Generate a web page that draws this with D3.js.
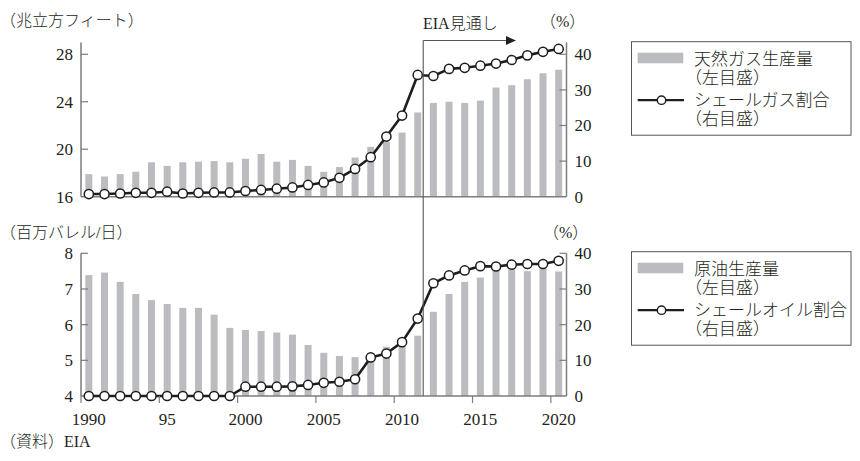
<!DOCTYPE html>
<html lang="ja">
<head>
<meta charset="utf-8">
<script src="https://cdn.jsdelivr.net/npm/d3@7"></script>
<style>
  html, body { margin: 0; padding: 0; background: #fff; }
  svg { display: block; }
  text { fill: #231f20; }
  .num { font-family: "Liberation Serif", "Noto Sans CJK JP", serif; font-size: 17px; }
  .jp { font-family: "Liberation Serif", "Noto Sans CJK JP", sans-serif; font-size: 16px; font-weight: 300; }
  .leg { font-family: "Liberation Serif", "Noto Sans CJK JP", sans-serif; font-size: 17px; font-weight: 300; }
</style>
</head>
<body>
<svg id="chart" width="860" height="461"></svg>
<script>
// Years on the shared horizontal axis
const years = [1990, 1991, 1992, 1993, 1994, 1995, 1996, 1997, 1998, 1999,
               2000, 2001, 2002, 2003, 2004, 2005, 2006, 2007, 2008, 2009,
               2010, 2011, 2012, 2013, 2014, 2015, 2016, 2017, 2018, 2019, 2020];

// Natural gas production (trillion cubic feet) and shale gas share (%)
const gasProduction = [17.9, 17.7, 17.9, 18.1, 18.9, 18.6, 18.9, 18.95, 19.0, 18.9,
                       19.2, 19.6, 18.95, 19.1, 18.6, 18.1, 18.5, 19.3, 20.2, 20.6,
                       21.4, 23.1, 23.9, 24.0, 23.9, 24.1, 25.2, 25.4, 25.9, 26.4, 26.7];
const shaleGasShare = [0.75, 0.75, 0.9, 1.1, 1.1, 1.4, 0.9, 1.1, 1.2, 1.2,
                       1.6, 1.9, 2.25, 2.6, 3.3, 4.0, 5.3, 7.8, 11.1, 16.9,
                       22.8, 34.2, 33.9, 35.9, 36.2, 36.8, 37.4, 38.4, 39.7, 40.7, 41.5];

// Crude oil production (million barrels/day) and shale oil share (%)
const oilProduction = [7.39, 7.46, 7.2, 6.86, 6.69, 6.58, 6.47, 6.47, 6.28, 5.91,
                       5.85, 5.82, 5.78, 5.72, 5.43, 5.21, 5.12, 5.09, 5.2, 5.38,
                       5.5, 5.69, 6.36, 6.86, 7.2, 7.32, 7.53, 7.55, 7.5, 7.58, 7.49];
const shaleOilShare = [0, 0, 0, 0, 0, 0, 0, 0, 0, 0,
                       2.6, 2.6, 2.6, 2.7, 3.1, 3.7, 4.0, 4.7, 10.8, 11.9,
                       15.1, 21.7, 31.6, 33.8, 35.2, 36.4, 36.3, 36.8, 37.0, 37.0, 37.9];

// Axis ticks and labels
const gasTicks = [16, 20, 24, 28];
const oilTicks = [4, 5, 6, 7, 8];
const shareTicks = [0, 10, 20, 30, 40];
const yearTicks = [1990, 1995, 2000, 2005, 2010, 2015, 2020];
const yearTickLabels = ["1990", "95", "2000", "2005", "2010", "2015", "2020"];
const forecastStart = 2011.85;

const svg = d3.select("#chart");
const axisColor = "#7d7d7d";
const barColor = "#bbbcbf";
const lineColor = "#1e1e1e";

const x = d3.scaleLinear().domain([1990, 2021]).range([81, 566.5]);
const bandW = x(1991) - x(1990);
const barW = 7;

function panel(opts) {
  const g = svg.append("g");
  const { yL, yR, bars, shares, leftTicks, topY, bottomY } = opts;

  // bars
  g.selectAll("rect.bar").data(years).join("rect")
    .attr("class", "bar")
    .attr("x", d => x(d) + bandW / 2 - barW / 2)
    .attr("width", barW)
    .attr("y", (d, i) => yL(bars[i]))
    .attr("height", (d, i) => yL.range()[0] - yL(bars[i]))
    .attr("fill", barColor);

  // left axis
  g.append("line").attr("x1", x.range()[0]).attr("x2", x.range()[0])
    .attr("y1", topY).attr("y2", bottomY)
    .attr("stroke", axisColor).attr("stroke-width", 1.5);
  g.selectAll("line.lt").data(leftTicks.slice(1)).join("line")
    .attr("x1", x.range()[0]).attr("x2", x.range()[0] + 7)
    .attr("y1", d => yL(d)).attr("y2", d => yL(d))
    .attr("stroke", axisColor).attr("stroke-width", 1.2);
  g.selectAll("text.lt").data(leftTicks).join("text")
    .attr("class", "num")
    .attr("x", x.range()[0] - 8).attr("y", d => yL(d)).attr("dy", "0.35em")
    .attr("text-anchor", "end").text(d => d);

  // right axis
  const xr = x.range()[1];
  g.append("line").attr("x1", xr).attr("x2", xr)
    .attr("y1", topY).attr("y2", bottomY)
    .attr("stroke", axisColor).attr("stroke-width", 1.5);
  g.selectAll("line.rt").data(shareTicks.slice(1)).join("line")
    .attr("x1", xr - 7).attr("x2", xr)
    .attr("y1", d => yR(d)).attr("y2", d => yR(d))
    .attr("stroke", axisColor).attr("stroke-width", 1.2);
  g.selectAll("text.rt").data(shareTicks).join("text")
    .attr("class", "num")
    .attr("x", xr + 8).attr("y", d => yR(d)).attr("dy", "0.35em")
    .attr("text-anchor", "start").text(d => d);

  // bottom axis line
  g.append("line").attr("x1", x.range()[0]).attr("x2", xr)
    .attr("y1", bottomY).attr("y2", bottomY)
    .attr("stroke", axisColor).attr("stroke-width", 1.5);

  // share line with open markers
  const line = d3.line().x((d, i) => x(d) + bandW / 2).y((d, i) => yR(shares[i]));
  g.append("path").datum(years).attr("d", line)
    .attr("fill", "none").attr("stroke", lineColor).attr("stroke-width", 2.6)
    .attr("stroke-linejoin", "round");
  g.selectAll("circle.pt").data(years).join("circle")
    .attr("cx", d => x(d) + bandW / 2)
    .attr("cy", (d, i) => yR(shares[i]))
    .attr("r", 4.6)
    .attr("fill", "#fff").attr("stroke", lineColor).attr("stroke-width", 1.5);
  return g;
}

// Upper panel: natural gas
const yGas = d3.scaleLinear().domain([16, 28]).range([196.7, 54.3]);
const yGasShare = d3.scaleLinear().domain([0, 40]).range([196.7, 54.3]);
panel({ yL: yGas, yR: yGasShare, bars: gasProduction, shares: shaleGasShare,
        leftTicks: gasTicks, topY: 42.5, bottomY: 196.7 });

// Lower panel: crude oil
const yOil = d3.scaleLinear().domain([4, 8]).range([396, 253.3]);
const yOilShare = d3.scaleLinear().domain([0, 40]).range([396, 253.3]);
panel({ yL: yOil, yR: yOilShare, bars: oilProduction, shares: shaleOilShare,
        leftTicks: oilTicks, topY: 253.3, bottomY: 396 });

// Year ticks on the lower panel
svg.selectAll("line.xt").data(yearTicks).join("line")
  .attr("x1", d => x(d)).attr("x2", d => x(d))
  .attr("y1", 396).attr("y2", 403)
  .attr("stroke", axisColor).attr("stroke-width", 1.2);
svg.selectAll("text.xt").data(yearTicks).join("text")
  .attr("class", "num")
  .attr("x", d => x(d + 0.5)).attr("y", 425)
  .attr("text-anchor", "middle").text((d, i) => yearTickLabels[i]);

// Forecast marker: vertical rule and arrow
const fx = x(forecastStart);
svg.append("line").attr("x1", fx).attr("x2", fx).attr("y1", 40.5).attr("y2", 396)
  .attr("stroke", "#555").attr("stroke-width", 1.1);
svg.append("line").attr("x1", fx).attr("x2", 508).attr("y1", 40.5).attr("y2", 40.5)
  .attr("stroke", "#555").attr("stroke-width", 1.1);
svg.append("path").attr("d", `M506,36 L516,40.5 L506,45 Z`).attr("fill", "#231f20");
svg.append("text").attr("class", "jp").attr("x", 423).attr("y", 29).text("EIA見通し");

// Unit labels
svg.append("text").attr("class", "jp").attr("x", 0).attr("y", 26).text("（兆立方フィート）");
svg.append("text").attr("class", "jp").attr("x", 0).attr("y", 238).text("（百万バレル/日）");
svg.append("text").attr("class", "jp").attr("x", 540).attr("y", 27).text("（%）");
svg.append("text").attr("class", "jp").attr("x", 543).attr("y", 238).text("（%）");
svg.append("text").attr("class", "jp").attr("x", 0).attr("y", 447).text("（資料）EIA");

// Legends
function legend(y0, barLabel, lineLabel) {
  const g = svg.append("g");
  g.append("rect").attr("x", 631.5).attr("y", y0).attr("width", 219.5).attr("height", 93.5)
    .attr("fill", "#fff").attr("stroke", "#555").attr("stroke-width", 1);
  g.append("rect").attr("x", 637.7).attr("y", y0 + 11).attr("width", 45.6).attr("height", 10.6)
    .attr("fill", barColor);
  g.append("text").attr("class", "leg").attr("x", 694).attr("y", y0 + 23).text(barLabel);
  g.append("text").attr("class", "leg").attr("x", 685).attr("y", y0 + 42).text("（左目盛）");
  g.append("line").attr("x1", 637.7).attr("x2", 684).attr("y1", y0 + 58.5).attr("y2", y0 + 58.5)
    .attr("stroke", lineColor).attr("stroke-width", 2.2);
  g.append("circle").attr("cx", 661.5).attr("cy", y0 + 58.5).attr("r", 4.2)
    .attr("fill", "#fff").attr("stroke", lineColor).attr("stroke-width", 1.4);
  g.append("text").attr("class", "leg").attr("x", 694).attr("y", y0 + 64.5).text(lineLabel);
  g.append("text").attr("class", "leg").attr("x", 685).attr("y", y0 + 83.5).text("（右目盛）");
}
legend(41.7, "天然ガス生産量", "シェールガス割合");
legend(251.7, "原油生産量", "シェールオイル割合");
</script>
</body>
</html>
